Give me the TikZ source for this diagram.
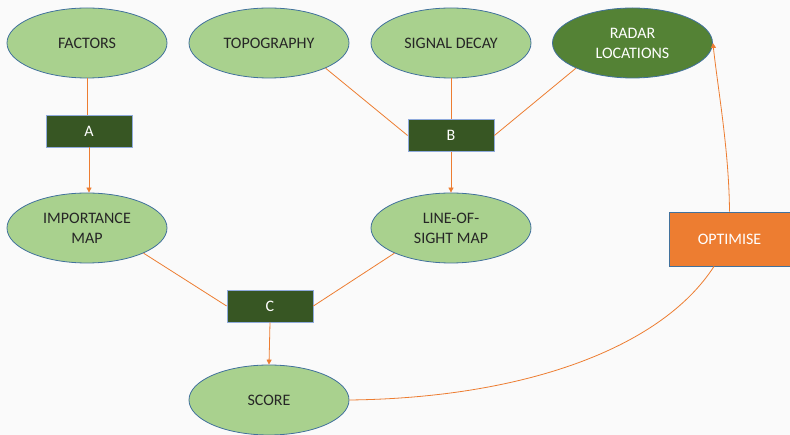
\documentclass[tikz,border=0pt]{standalone}
\usepackage{fontspec}
\setmainfont{Carlito}
\usetikzlibrary{shapes.geometric,arrows.meta}
\definecolor{lgreen}{HTML}{A9D18E}
\definecolor{dgreen}{HTML}{375623}
\definecolor{mgreen}{HTML}{548235}
\definecolor{bord}{HTML}{41719C}
\definecolor{lbord}{HTML}{8FAADC}
\definecolor{orng}{HTML}{ED7D31}
\definecolor{txt}{HTML}{262626}
\definecolor{bg}{HTML}{FAFAFA}
\begin{document}
\begin{tikzpicture}[x=1pt,y=-1pt,
  font=\fontsize{16}{20}\selectfont,
  ell/.style={ellipse,draw=bord,fill=lgreen,line width=0.8pt,minimum width=160pt,minimum height=70pt,inner sep=0pt,text=txt,align=center},
  dell/.style={ell,fill=mgreen,text=white},
  box/.style={rectangle,draw=lbord,fill=dgreen,line width=0.8pt,minimum width=86pt,minimum height=32pt,inner sep=0pt,text=white},
  obox/.style={rectangle,draw=bord,fill=orng,line width=0.8pt,minimum width=121pt,minimum height=54pt,inner sep=0pt,text=white},
  conn/.style={draw=orng,line width=0.8pt},
  arr/.style={conn,-{Triangle[length=5pt,width=5pt]}}]
\fill[bg] (0,0) rectangle (790,435);
\useasboundingbox (0,0) rectangle (790,435);
\node[ell] (fac) at (87,43) {FACTORS};
\node[ell] (topo) at (269,43) {TOPOGRAPHY};
\node[ell] (sig) at (451,43) {SIGNAL DECAY};
\node[dell] (rad) at (632.5,43) {RADAR\\LOCATIONS};
\node[box] (a) at (89,131) {A};
\node[box] (b) at (451,135.5) {B};
\node[ell] (imp) at (87,228) {IMPORTANCE\\MAP};
\node[ell] (los) at (451,228) {LINE-OF-\\SIGHT MAP};
\node[box] (c) at (270,306) {C};
\node[ell] (score) at (269,400) {SCORE};
\node[obox] (opt) at (729.5,239) {OPTIMISE};
\draw[conn] (fac.south) -- (fac.south |- a.north);
\draw[arr] (a.south) -- (a.south |- imp.north);
\draw[conn] (topo.-24) -- (b.west);
\draw[conn] (sig.south) -- (b.north);
\draw[conn] (rad.-156) -- (b.east);
\draw[arr] (b.south) -- (los.north);
\draw[conn] (imp.-24) -- (c.west);
\draw[conn] (los.-156) -- (c.east);
\draw[arr] (c.south) -- (score.north);
\draw[conn] (score.east) .. controls (520,398) and (660,350) .. (opt.south -| 714,0);
\draw[arr] (opt.north) .. controls (729,150) and (718,90) .. (rad.east);
\end{tikzpicture}
\end{document}
